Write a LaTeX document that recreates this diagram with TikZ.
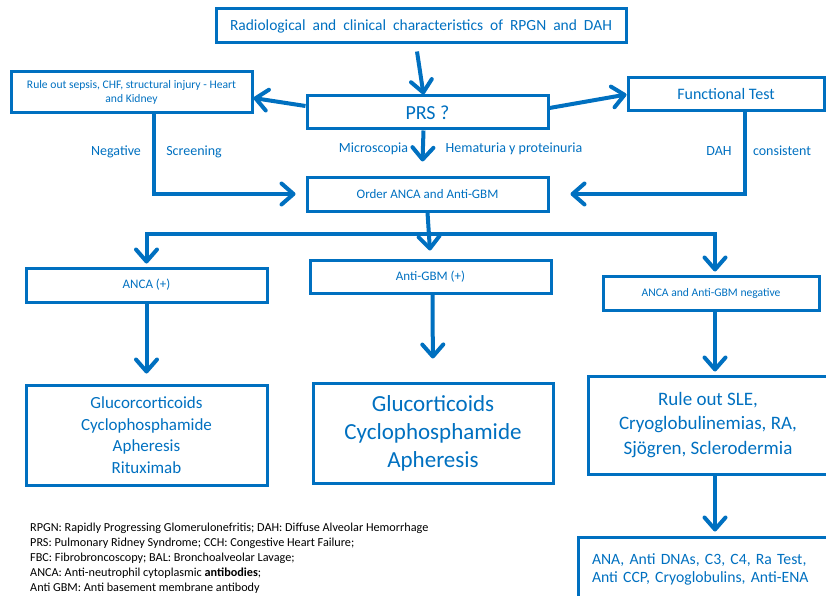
\documentclass[tikz,border=0pt]{standalone}
\usepackage{fontspec}
\setmainfont{Carlito}
\usepackage{xcolor}
\usepackage{tikz}
\usetikzlibrary{calc, positioning, arrows.meta}
\definecolor{rpgnblue}{HTML}{0070C0}

\begin{document}
\begin{tikzpicture}[x=1pt,y=-1pt,
                    box/.style={draw=rpgnblue,line width=3pt,text=rpgnblue,align=center,inner sep=0pt},
                    lbl/.style={text=rpgnblue,inner sep=0pt,font=\fontsize{14}{16}\selectfont},
                    arr/.style={draw=rpgnblue,line width=4pt,-{Straight Barb[length=12pt,width=21pt,round]}},
                    link/.style={draw=rpgnblue,line width=4pt}]
\useasboundingbox (0,0) rectangle (826,596);
\clip (0,0) rectangle (826,596);

%Top of the chart
 \node[box,minimum width=410pt,minimum height=34pt,font={\fontsize{15.5}{18}\selectfont\spaceskip=7pt}] (Start) at (421,26) {Radiological and clinical characteristics of RPGN and DAH};
 \node[box,minimum width=241pt,minimum height=33pt,font=\fontsize{20}{24}\selectfont] (PRS) at (427.5,112.5) {PRS ?};
 \node[box,minimum width=241pt,minimum height=41pt,font=\fontsize{11.6}{14}\selectfont] (RuleOut) at (131.5,92.5) {Rule out sepsis, CHF, structural injury - Heart\\and Kidney};
 \node[box,minimum width=196pt,minimum height=33pt,font=\fontsize{16}{19}\selectfont] (Functional) at (726,94.5) {Functional Test};
 \node[box,minimum width=241pt,minimum height=34pt,font=\fontsize{13}{16}\selectfont] (Order) at (427.5,194) {Order ANCA and Anti-GBM};

%Antibody results
 \node[box,minimum width=241pt,minimum height=34pt,font=\fontsize{13}{16}\selectfont] (ANCA) at (146.5,285) {ANCA (+)};
 \node[box,minimum width=241pt,minimum height=33pt,font=\fontsize{13}{16}\selectfont] (AntiGBM) at (430.5,276.5) {Anti-GBM (+)};
 \node[box,minimum width=216pt,minimum height=34pt,font=\fontsize{11.6}{14}\selectfont] (Negative) at (711,293) {ANCA and Anti-GBM negative};

%Treatments
 \node[box,minimum width=241pt,minimum height=100pt,font=\fontsize{17}{21.5}\selectfont] (Treat1) at (146.5,435) {Glucorcorticoids\\Cyclophosphamide\\Apheresis\\Rituximab};
 \node[box,minimum width=240pt,minimum height=100pt,font=\fontsize{23}{28}\selectfont] (Treat2) at (433,433) {Glucorticoids\\Cyclophosphamide\\Apheresis};
 \node[box,minimum width=240pt,minimum height=98pt,font=\fontsize{19}{24.5}\selectfont] (Treat3) at (708,425) {Rule out SLE,\\Cryoglobulinemias, RA,\\Sjögren, Sclerodermia};
 \node[box,minimum width=250pt,minimum height=65pt,align=left,text width=222pt,inner xsep=14pt,font=\fontsize{15.7}{18.5}\selectfont] (Tests) at (703,569.5) {ANA, Anti DNAs, C3, C4, Ra Test,\\Anti CCP, Cryoglobulins, Anti-ENA};

%Labels on the connectors
 \node[lbl] (Microscopia) at (373.5,149) {Microscopia};
 \node[lbl] (Hematuria) at (514,149) {Hematuria y proteinuria};
 \node[lbl] (NegLabel) at (116,152) {Negative};
 \node[lbl] (ScreenLabel) at (194,152) {Screening};
 \node[lbl] (DAHLabel) at (719,151) {DAH};
 \node[lbl] (ConsLabel) at (782,151) {consistent};

%Arrows
 \draw[arr] ($(Start.south)+(-4,7)$) -- ($(PRS.north)+(-4,0)$);
 \draw[arr] ($(PRS.west)+(0,-6.5)$) -- ($(RuleOut.east)+(0,5.5)$);
 \draw[arr] ($(PRS.east)+(0,-4.5)$) -- (Functional.west);
 \draw[arr] ($(PRS.south)+(-4,0)$) -- ($(Order.north)+(-5,-14)$);
 \draw[arr] ($(RuleOut.south)+(22.5,0)$) |- ($(Order.west)+(-10,0)$);
 \draw[arr] ($(Functional.south)+(19,0)$) |- ($(Order.east)+(21,0)$);

%Splitting after the antibodies
 \coordinate (Split) at ($(Order.south)+(0,21)$);
 \draw[arr,shorten >=8pt] (Order.south) -- (AntiGBM.north);
 \draw[arr,shorten >=3pt] (Split) -| (ANCA.north);
 \draw[arr,shorten >=3pt] (Split) -| ($(Negative.north)+(4,0)$);

 \draw[arr,shorten >=10pt] (ANCA.south) -- (Treat1.north);
 \draw[arr,shorten >=23pt] ($(AntiGBM.south)+(2,0)$) -- (Treat2.north);
 \draw[arr,shorten >=3pt] ($(Negative.south)+(4,0)$) -- ($(Treat3.north)+(7,0)$);
 \draw[arr,shorten >=4pt] ($(Treat3.south)+(7,0)$) -- ($(Tests.north)+(12,0)$);

%Abbreviations
 \node[anchor=north west,align=left,inner sep=0pt,font=\fontsize{12.2}{15}\selectfont] (Abbrev) at (30,523) {RPGN: Rapidly Progressing Glomerulonefritis; DAH: Diffuse Alveolar Hemorrhage\\PRS: Pulmonary Ridney Syndrome; CCH: Congestive Heart Failure;\\FBC: Fibrobroncoscopy; BAL: Bronchoalveolar Lavage;\\ANCA: Anti-neutrophil cytoplasmic \textbf{antibodies};\\Anti GBM: Anti basement membrane antibody};

\end{tikzpicture}
\end{document}
